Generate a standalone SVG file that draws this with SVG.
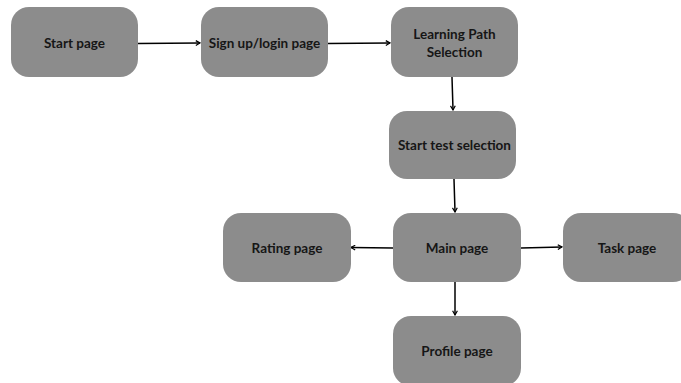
<svg xmlns="http://www.w3.org/2000/svg" width="681" height="383" viewBox="0 0 681 383">
<defs>
<marker id="arr" viewBox="0 0 10 10" refX="9" refY="5" markerWidth="6" markerHeight="6" markerUnits="userSpaceOnUse" orient="auto">
<path d="M2,1 L9,5 L2,9" fill="none" stroke="#000" stroke-width="2"/>
</marker>
<style>
.n{fill:#8c8c8c;}
.t{font-family:Lato,"Liberation Sans",sans-serif;font-weight:700;font-size:13.5px;fill:#161616;text-anchor:middle;dominant-baseline:central;}
.c{stroke:#000;stroke-width:1.5;fill:none;marker-end:url(#arr);}
</style>
</defs>
<rect width="681" height="383" fill="#fff"/>
<g id="connectors">
<path class="c" d="M138,43.5 L200,43"/>
<path class="c" d="M328,43.5 L390,43"/>
<path class="c" d="M452,77 L453,110"/>
<path class="c" d="M454,179 L455,212"/>
<path class="c" d="M393,248 L351,247.5"/>
<path class="c" d="M521,248 L562,247"/>
<path class="c" d="M455,282 L455,315"/>
</g>
<g id="start"><rect class="n" x="11" y="7" width="127" height="70" rx="18"/><text class="t" x="74.5" y="43">Start page</text></g>
<g id="signup"><rect class="n" x="201" y="7" width="127" height="70" rx="18"/><text class="t" x="264.5" y="43">Sign up/login page</text></g>
<g id="learning"><rect class="n" x="391" y="7" width="127" height="70" rx="18"/><text class="t" x="454.5" y="34">Learning Path</text><text class="t" x="454.5" y="52">Selection</text></g>
<g id="starttest"><rect class="n" x="389" y="111" width="127" height="68" rx="18"/><text class="t" x="454.5" y="145">Start test selection</text></g>
<g id="main"><rect class="n" x="393" y="213" width="128" height="69" rx="18"/><text class="t" x="457" y="248">Main page</text></g>
<g id="rating"><rect class="n" x="223" y="213" width="128" height="69" rx="18"/><text class="t" x="287" y="248">Rating page</text></g>
<g id="task"><rect class="n" x="563" y="213" width="128" height="69" rx="18"/><text class="t" x="627" y="248">Task page</text></g>
<g id="profile"><rect class="n" x="393" y="316" width="128" height="70" rx="18"/><text class="t" x="457" y="351">Profile page</text></g>
</svg>
